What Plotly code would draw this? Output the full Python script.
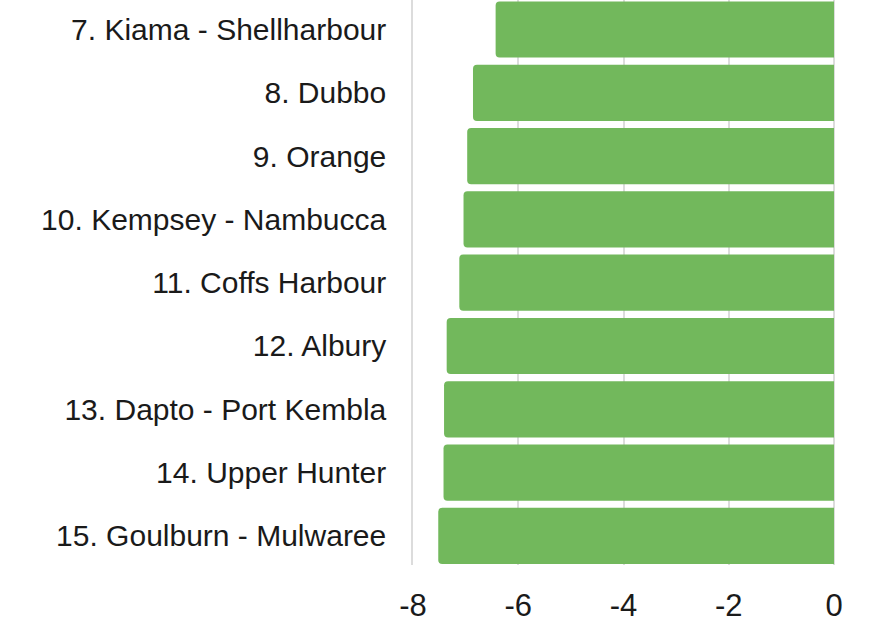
import plotly.graph_objects as go

regions = [
    "7. Kiama - Shellharbour",
    "8. Dubbo",
    "9. Orange",
    "10. Kempsey - Nambucca",
    "11. Coffs Harbour",
    "12. Albury",
    "13. Dapto - Port Kembla",
    "14. Upper Hunter",
    "15. Goulburn - Mulwaree",
]
values = [-6.43, -6.86, -6.97, -7.04, -7.12, -7.36, -7.41, -7.42, -7.52]
x_ticks = [-8, -6, -4, -2, 0]

FONT = "Liberation Sans Narrow, Liberation Sans, Arial, sans-serif"

fig = go.Figure(
    go.Bar(
        x=values,
        y=regions,
        orientation="h",
        marker=dict(color="#72b85c", cornerradius=4, line=dict(width=0)),
        hoverinfo="x+y",
    )
)

fig.update_layout(
    width=869,
    height=622,
    margin=dict(l=413, r=35, t=0, b=57, autoexpand=False),
    paper_bgcolor="white",
    plot_bgcolor="white",
    bargap=0.112,
    showlegend=False,
    font=dict(family=FONT, size=30, color="#1a1a1a"),
)

fig.update_xaxes(
    range=[-8, 0],
    tickvals=x_ticks,
    ticktext=[str(v) for v in x_ticks],
    showgrid=True,
    gridcolor="#dcdcdc",
    gridwidth=1.5,
    zeroline=True,
    zerolinecolor="#dcdcdc",
    zerolinewidth=1.5,
    showline=False,
    ticks="",
    automargin=False,
    ticklabelstandoff=19,
    tickfont=dict(family=FONT, size=31, color="#1a1a1a"),
)

fig.update_yaxes(
    range=[8.46, -0.466],
    showgrid=False,
    zeroline=False,
    showline=True,
    linecolor="#dcdcdc",
    linewidth=1.5,
    ticks="",
    automargin=False,
    ticklabelstandoff=19,
    tickfont=dict(family=FONT, size=30, color="#1a1a1a"),
)

fig.write_html(
    "out.html",
    config={"displayModeBar": False},
    post_script="document.body.style.margin='0';document.body.style.padding='0';",
)
